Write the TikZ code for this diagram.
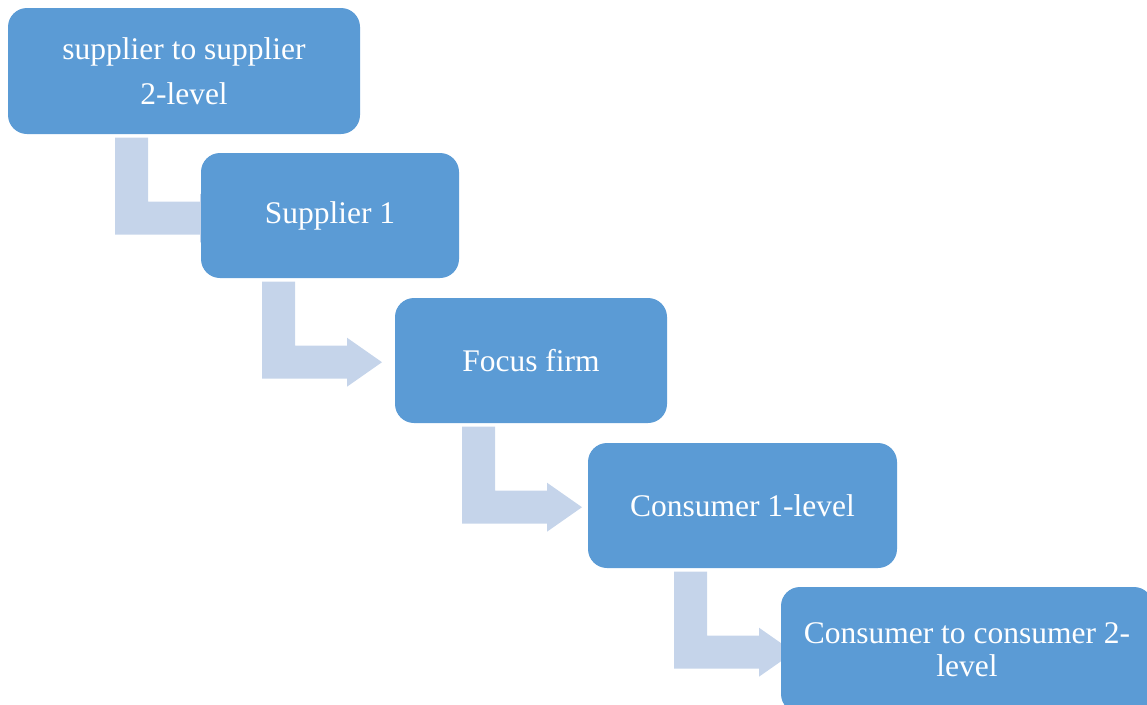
\documentclass[tikz,border=0pt]{standalone}
\usepackage{fontspec}
\setmainfont{Liberation Serif}
\usetikzlibrary{calc,backgrounds}
\definecolor{boxblue}{RGB}{91,155,213}
\definecolor{arrowblue}{RGB}{197,212,234}
% bent arrow: stem down from the top-left corner, then right with a head
\newcommand\bentarrow[1]{%
  \fill[flowarrow] (#1) -- ++(33,0) -- ++(0,64) -- ++(52,0) -- ++(0,-8)
    -- ++(35,24.5) -- ++(-35,24.5) -- ++(0,-8) -- ++(-85,0) -- cycle;}
\begin{document}
\begin{tikzpicture}[x=1pt,y=-1pt,
  stage/.style={fill=boxblue, rounded corners=19pt, inner sep=0pt,
    text=white, align=center, minimum height=125pt,
    font=\fontsize{31.5}{45}\selectfont},
  flowarrow/.style={fill=arrowblue}]
\useasboundingbox (0,0) rectangle (1147,704);
\clip (0,0) rectangle (1147,704);

\node[stage, minimum width=352pt, minimum height=126pt] (b1) at (184,71)
  {supplier to supplier\\2-level};
\node[stage, minimum width=258pt] (b2) at (330,215.5) {Supplier 1};
\node[stage, minimum width=272pt] (b3) at (531,360.5) {Focus firm};
\node[stage, minimum width=309pt] (b4) at (742.5,505.5) {Consumer 1-level};
\node[stage, minimum width=372pt, minimum height=126pt,
  font=\fontsize{31.5}{33}\selectfont] (b5) at (967,650)
  {Consumer to consumer 2-\\level};

\coordinate (a1) at ($(b1.south)+(-69,3.5)$);
\coordinate (a2) at ($(b2.south)+(-68,3.5)$);
\coordinate (a3) at ($(b3.south)+(-69,3.5)$);
\coordinate (a4) at ($(b4.south)+(-68.5,3.5)$);

\begin{scope}[on background layer]
  \bentarrow{a1}
  \bentarrow{a2}
  \bentarrow{a3}
  \bentarrow{a4}
\end{scope}
\end{tikzpicture}
\end{document}
